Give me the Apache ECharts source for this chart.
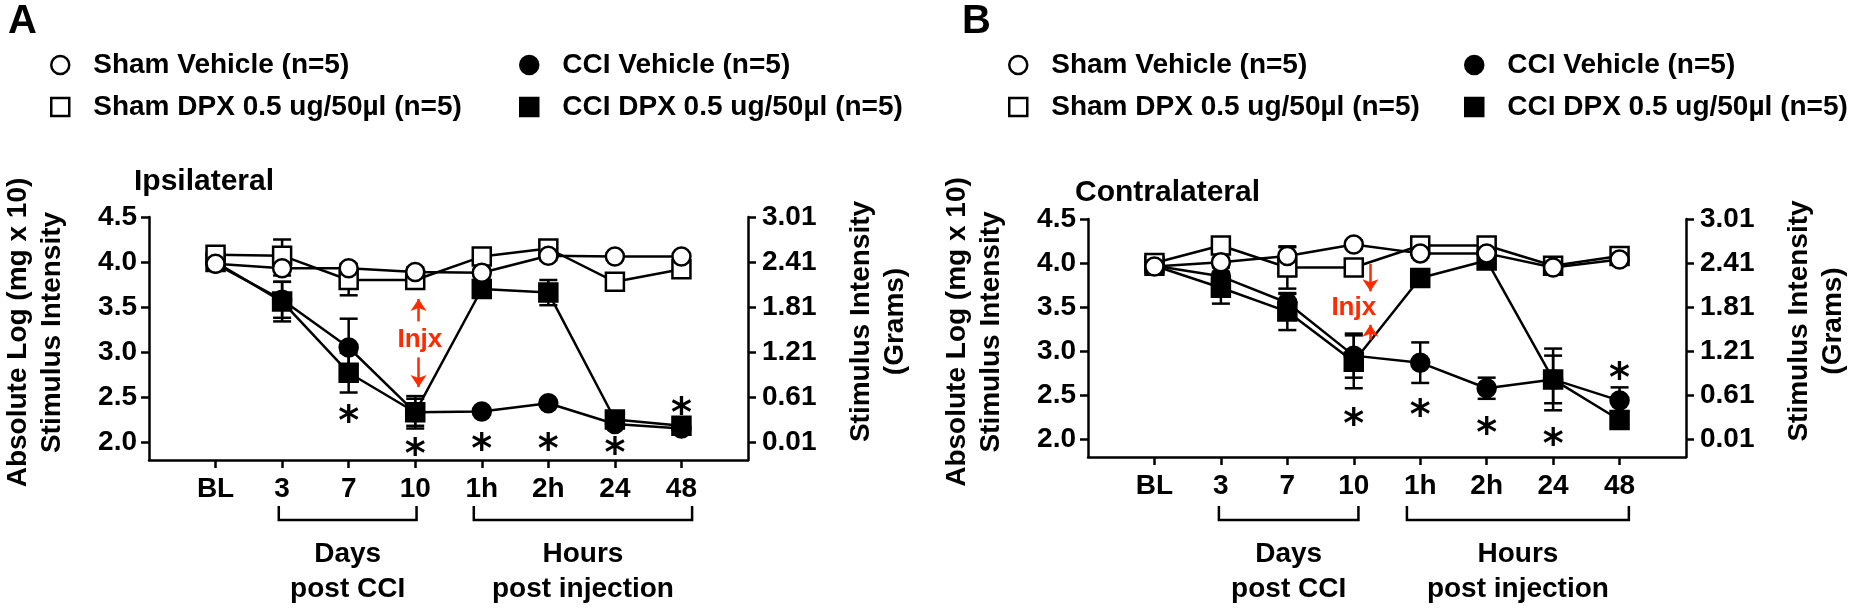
<!DOCTYPE html>
<html><head><meta charset="utf-8">
<script src="https://cdn.jsdelivr.net/npm/echarts@6/dist/echarts.min.js"></script>
<style>html,body{margin:0;padding:0;background:#fff}#c{width:1851px;height:612px}</style>
</head><body><div id="c"></div>
<script>
// ---------- DATA ----------
const categories = ['BL', '3', '7', '10', '1h', '2h', '24', '48'];
const leftTicks = [2.0, 2.5, 3.0, 3.5, 4.0, 4.5];
const rightTicks = [0.01, 0.61, 1.21, 1.81, 2.41, 3.01];
const seriesNames = ['Sham Vehicle (n=5)', 'Sham DPX 0.5 ug/50µl (n=5)', 'CCI Vehicle (n=5)', 'CCI DPX 0.5 ug/50µl (n=5)'];

// Panel A - Ipsilateral (absolute log units)
const ipsiShamVeh    = [3.98, 3.93, 3.93, 3.89, 3.88, 4.07, 4.06, 4.06];
const ipsiShamVehErr = [0.03, 0.08, 0.05, 0.05, 0.05, 0.05, 0.04, 0.04];
const ipsiShamDpx    = [4.08, 4.07, 3.80, 3.80, 4.06, 4.15, 3.78, 3.92];
const ipsiShamDpxErr = [0.03, 0.18, 0.17, 0.06, 0.05, 0.05, 0.08, 0.05];
const ipsiCciVeh     = [3.98, 3.58, 3.05, 2.33, 2.34, 2.43, 2.20, 2.15];
const ipsiCciVehErr  = [0.03, 0.20, 0.32, 0.15, 0.03, 0.03, 0.03, 0.03];
const ipsiCciDpx     = [4.00, 3.56, 2.77, 2.33, 3.70, 3.66, 2.25, 2.18];
const ipsiCciDpxErr  = [0.03, 0.22, 0.22, 0.18, 0.06, 0.14, 0.04, 0.04];
const ipsiStarX = [2, 3, 4, 5, 6, 7];
const ipsiStarY = [2.33, 1.96, 2.01, 2.01, 1.97, 2.42];

// Panel B - Contralateral
const contraShamVeh    = [3.96, 4.01, 4.08, 4.21, 4.11, 4.11, 3.95, 4.04];
const contraShamVehErr = [0.03, 0.05, 0.10, 0.05, 0.05, 0.05, 0.05, 0.04];
const contraShamDpx    = [4.00, 4.20, 3.95, 3.95, 4.20, 4.20, 3.97, 4.08];
const contraShamDpxErr = [0.03, 0.05, 0.24, 0.05, 0.04, 0.04, 0.05, 0.04];
const contraCciVeh     = [3.97, 3.85, 3.55, 2.95, 2.87, 2.58, 2.68, 2.44];
const contraCciVehErr  = [0.03, 0.10, 0.10, 0.25, 0.23, 0.12, 0.27, 0.15];
const contraCciDpx     = [3.97, 3.72, 3.45, 2.88, 3.83, 4.03, 2.68, 2.22];
const contraCciDpxErr  = [0.03, 0.18, 0.21, 0.30, 0.04, 0.04, 0.35, 0.07];
const contraStarX = [3, 4, 5, 6, 7];
const contraStarY = [2.27, 2.37, 2.17, 2.04, 2.79];

// Injection annotations: [x, yFrom, yTo] arrows and text position
const ipsiInjxArrows   = [[3.05, 3.34, 3.59], [3.05, 2.94, 2.61]];
const ipsiInjxText     = [3.07, 3.14];
const contraInjxArrows = [[3.25, 3.99, 3.68], [3.25, 3.13, 3.30]];
const contraInjxText   = [3.0, 3.49];

// Bracket groups below x axis: [label, fromIndex, toIndex]
const groups = [['Days\npost CCI', 1, 3], ['Hours\npost injection', 4, 7]];

// ---------- CHART ----------
const chart = echarts.init(document.getElementById('c'));
const FONT = '"Liberation Sans", Arial, Helvetica, sans-serif';
const RED = '#ff2a00';
const bold = (size, extra) => Object.assign({fontFamily: FONT, fontWeight: 'bold', fontSize: size, color: '#000'}, extra || {});
const idx = categories.map((_, i) => i);

const panels = [
  {grid: {left: 139, top: 217, width: 609, height: 243}, letter: 'A', letterLeft: 8, title: 'Ipsilateral', titleLeft: 134, titleTop: 167,
   legendLeft: [50, 519], vals: [ipsiShamVeh, ipsiShamDpx, ipsiCciVeh, ipsiCciDpx], errs: [ipsiShamVehErr, ipsiShamDpxErr, ipsiCciVehErr, ipsiCciDpxErr],
   starX: ipsiStarX, starY: ipsiStarY, arrows: ipsiInjxArrows, injx: ipsiInjxText, pads: [[-0.05, 0.02], [-0.12, 0.16]]},
  {grid: {left: 1088, top: 219, width: 598, height: 238}, letter: 'B', letterLeft: 962, title: 'Contralateral', titleLeft: 1075, titleTop: 178,
   legendLeft: [1008, 1464], vals: [contraShamVeh, contraShamDpx, contraCciVeh, contraCciDpx], errs: [contraShamVehErr, contraShamDpxErr, contraCciVehErr, contraCciDpxErr],
   starX: contraStarX, starY: contraStarY, arrows: contraInjxArrows, injx: contraInjxText, pads: [[-0.03, 0.07], [-0.2, 0.14]]}
];

const symbols = ['circle', 'rect', 'circle', 'rect'];
const fills = ['#fff', '#fff', '#000', '#000'];
const drawOrder = [2, 3, 1, 0];

const option = {animation: false, backgroundColor: '#fff', grid: [], xAxis: [], yAxis: [], series: [], legend: [], title: []};
const axisLine = {show: true, onZero: false, lineStyle: {color: '#000', width: 2.5}};
const tickStyle = {color: '#000', width: 2.5};

panels.forEach((p, g) => {
  option.grid.push(Object.assign({containLabel: false}, p.grid));
  option.title.push({text: p.letter, left: p.letterLeft, top: 2, padding: 0, textStyle: bold(40)});
  option.title.push({text: p.title, left: p.titleLeft, top: p.titleTop, padding: 0, textStyle: bold(30)});
  option.xAxis.push({type: 'value', gridIndex: g, min: -1, max: 8, axisLine,
    axisTick: {show: true, customValues: idx, length: 8, lineStyle: tickStyle},
    axisLabel: Object.assign({customValues: idx, formatter: v => categories[Math.round(v)], margin: 15}, bold(28)),
    splitLine: {show: false}});
  option.yAxis.push({type: 'value', gridIndex: g, min: 1.8, max: 4.5, position: 'left', axisLine,
    axisTick: {show: true, customValues: leftTicks, length: 8, lineStyle: tickStyle},
    axisLabel: Object.assign({customValues: leftTicks, formatter: v => v.toFixed(1), margin: 12}, bold(28)),
    splitLine: {show: false},
    name: 'Absolute Log (mg x 10)\nStimulus Intensity', nameLocation: 'middle', nameGap: 80, nameRotate: 90,
    nameTextStyle: bold(28, {lineHeight: 34, padding: [0, 0, 0, 12]})});
  option.yAxis.push({type: 'value', gridIndex: g, min: -0.23, max: 3.01, position: 'right', axisLine,
    axisTick: {show: true, customValues: rightTicks, length: 8, lineStyle: tickStyle},
    axisLabel: Object.assign({customValues: rightTicks, formatter: v => v.toFixed(2), margin: 14}, bold(28)),
    splitLine: {show: false},
    name: 'Stimulus Intensity\n(Grams)', nameLocation: 'middle', nameGap: 96, nameRotate: 90,
    nameTextStyle: bold(28, {lineHeight: 34, padding: [0, 0, 0, 34]})});
  const xi = g, yi = g * 2;
  // error bars
  drawOrder.forEach(s => {
    option.series.push({type: 'custom', xAxisIndex: xi, yAxisIndex: yi, z: 1, silent: true,
      data: p.vals[s].map((v, i) => [i, v, p.errs[s][i]]),
      encode: {x: 0, y: 1},
      renderItem: (params, api) => {
        const x = api.value(0), y = api.value(1), e = api.value(2);
        const t = api.coord([x, y + e]), b = api.coord([x, y - e]);
        const hw = 9, st = {stroke: '#000', lineWidth: 2.5};
        return {type: 'group', children: [
          {type: 'line', shape: {x1: t[0], y1: t[1], x2: b[0], y2: b[1]}, style: st},
          {type: 'line', shape: {x1: t[0] - hw, y1: t[1], x2: t[0] + hw, y2: t[1]}, style: st},
          {type: 'line', shape: {x1: b[0] - hw, y1: b[1], x2: b[0] + hw, y2: b[1]}, style: st}
        ]};
      }});
  });
  // lines
  drawOrder.forEach(s => {
    option.series.push({type: 'line', name: seriesNames[s], xAxisIndex: xi, yAxisIndex: yi, z: 3,
      data: p.vals[s].map((v, i) => [i, v]),
      symbol: symbols[s], symbolSize: 18, showAllSymbol: true,
      lineStyle: {color: '#000', width: 2.5},
      itemStyle: {color: fills[s], borderColor: '#000', borderWidth: 2.5, opacity: 1},
      emphasis: {disabled: true}});
  });
  // asterisks
  option.series.push({type: 'scatter', xAxisIndex: xi, yAxisIndex: yi, z: 4, silent: true,
    data: p.starX.map((x, i) => [x, p.starY[i]]), symbolSize: 1, itemStyle: {color: '#fff', opacity: 0},
    label: {show: true, position: 'inside', formatter: '*', offset: [0, 11], fontFamily: '"DejaVu Sans", sans-serif', fontWeight: 'bold', fontSize: 40,
      color: '#000', opacity: 1}});
  // injection annotation
  option.series.push({type: 'scatter', xAxisIndex: xi, yAxisIndex: yi, z: 5, silent: true,
    data: [p.injx], symbolSize: 1, itemStyle: {color: '#fff', opacity: 0},
    label: {show: true, position: 'inside', formatter: 'Injx', fontFamily: FONT, fontWeight: 'bold', fontSize: 26, color: RED, opacity: 1},
    markLine: {silent: true, symbol: ['none', 'arrow'], symbolSize: 12, label: {show: false},
      lineStyle: {color: RED, width: 2.5, type: 'solid'},
      data: p.arrows.map(a => [{coord: [a[0], a[1]]}, {coord: [a[0], a[2]]}])}});
  // legends
  [[0, 1], [2, 3]].forEach((pair, c) => {
    option.legend.push({orient: 'vertical', left: p.legendLeft[c], top: 51, itemGap: 14, itemWidth: 18, itemHeight: 18,
      selectedMode: false, padding: 0, textStyle: bold(28, {padding: [0, 0, 0, 19]}),
      data: pair.map(s => ({name: seriesNames[s], icon: symbols[s],
        itemStyle: {color: fills[s], borderColor: '#000', borderWidth: 2.5}}))});
  });
});

chart.setOption(option);

// brackets below x axis, positioned through the x scale
const graphics = [];
panels.forEach((p, g) => {
  groups.forEach((gr, k) => {
    const x1 = chart.convertToPixel({xAxisIndex: g}, gr[1] + p.pads[k][0]);
    const x2 = chart.convertToPixel({xAxisIndex: g}, gr[2] + p.pads[k][1]);
    graphics.push({type: 'polyline', shape: {points: [[x1, 506], [x1, 520], [x2, 520], [x2, 506]]},
      style: {stroke: '#000', lineWidth: 2.5, fill: null}});
    graphics.push({type: 'text', x: (x1 + x2) / 2, y: 537,
      style: {text: gr[0], align: 'center', verticalAlign: 'top', font: 'bold 28px ' + FONT, lineHeight: 35, fill: '#000'}});
  });
});
chart.setOption({graphic: graphics});
</script></body></html>
